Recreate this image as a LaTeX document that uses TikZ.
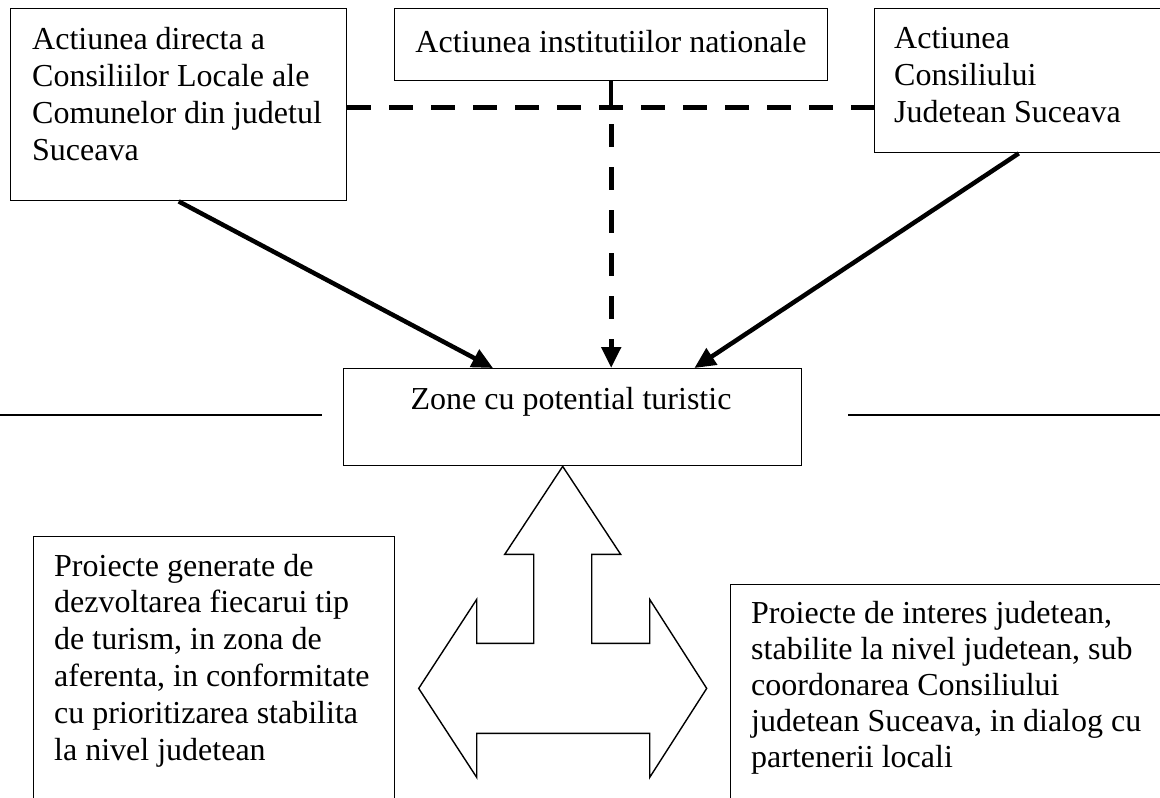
\documentclass[tikz,border=0pt]{standalone}
\usepackage{fontspec}
\setmainfont{Liberation Serif}
\usetikzlibrary{arrows.meta,calc}
\begin{document}
\begin{tikzpicture}[x=1pt,y=-1pt,
  box/.style={draw, line width=1.4pt, inner sep=0pt, anchor=north west},
  txt/.style={inner sep=0pt, anchor=base west, align=left, font=\fontsize{32}{36.8}\selectfont},
  ctxt/.style={inner sep=0pt, anchor=base, align=center, font=\fontsize{32}{36.8}\selectfont},
  tip/.style={-{Triangle[length=21pt,width=19pt]}},
  heavy/.style={line width=4.5pt},
  hdash/.style={line width=5pt, dash pattern=on 24pt off 18pt},
  vdash/.style={line width=5pt, dash pattern=on 23pt off 20pt},
  thin/.style={line width=1.4pt}]
\useasboundingbox (0,0) rectangle (1160,798);
% boxes
\node[box, minimum width=336pt, minimum height=192pt] (A) at (10,8) {};
\node[box, minimum width=433pt, minimum height=72pt] (B) at (394,8) {};
\node[box, minimum width=288pt, minimum height=144pt] (C) at (874,8) {};
\node[box, minimum width=458pt, minimum height=97pt] (Z) at (343,368) {};
\node[box, minimum width=361pt, minimum height=300pt] (L) at (33,536) {};
\node[box, minimum width=450pt, minimum height=300pt] (R) at (730,584) {};
% texts (anchored at the baseline of the last line)
\node[txt] (tA) at (32,160) {Actiunea directa a\\Consiliilor Locale ale\\Comunelor din judetul\\Suceava};
\node[ctxt] (tB) at (611,52) {Actiunea institutiilor nationale};
\node[txt] (tC) at (894,122) {Actiunea\\Consiliului\\Judetean Suceava};
\node[ctxt] (tZ) at (571,409) {Zone cu potential turistic};
\node[txt] (tL) at (54,760) {Proiecte generate de\\dezvoltarea fiecarui tip\\de turism, in zona de\\aferenta, in conformitate\\cu prioritizarea stabilita\\la nivel judetean};
\node[txt, font=\fontsize{32}{36}\selectfont] (tR) at (751,767) {Proiecte de interes judetean,\\stabilite la nivel judetean, sub\\coordonarea Consiliului\\judetean Suceava, in dialog cu\\partenerii locali};
% connectors
\path (B.south) ++(0,26) coordinate (J);
\path (J) ++(0,17) coordinate (Jv);
\draw[heavy] (B.south) -- (J);
\draw[hdash] (A.east |- J) -- (C.west |- J);
\draw[vdash, tip] (Jv) -- (Z.north -| J);
\draw[heavy, tip] (A.south) -- ([xshift=150pt]Z.north west);
\draw[heavy, tip] (C.south) -- ([xshift=-108pt]Z.north east);
% side lines
\coordinate (l1) at (0,415); \coordinate (l2) at (322,415);
\coordinate (r1) at (848,415); \coordinate (r2) at (1160,415);
\draw[thin] (l1) -- (l2);
\draw[thin] (r1) -- (r2);
% block arrow
\coordinate (T) at ([xshift=-10pt]Z.south);
\draw[thin, line join=miter] (T) -- ++(58,88) -- ++(-29,0) -- ++(0,89) -- ++(58,0) -- ++(0,-44)
  -- ++(57,89) -- ++(-57,89) -- ++(0,-44) -- ++(-173,0) -- ++(0,44) -- ++(-58,-89)
  -- ++(58,-89) -- ++(0,44) -- ++(57,0) -- ++(0,-89) -- ++(-29,0) -- cycle;
\end{tikzpicture}
\end{document}
